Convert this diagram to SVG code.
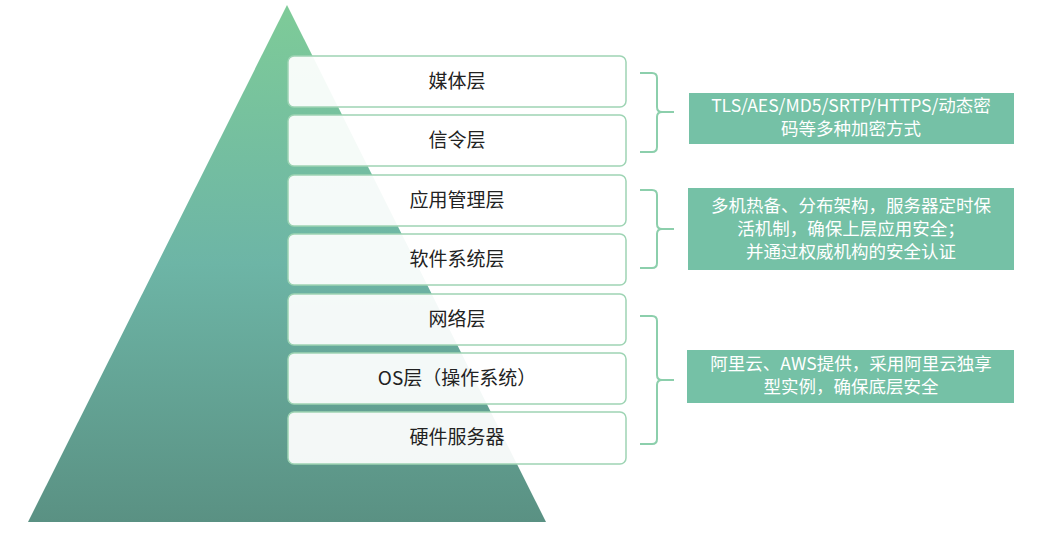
<svg xmlns="http://www.w3.org/2000/svg" width="1054" height="536" viewBox="0 0 1054 536">
<defs>
<linearGradient id="g" x1="0" y1="0" x2="0" y2="1">
<stop offset="0" stop-color="#7ecb98"/>
<stop offset="0.5" stop-color="#6db5a6"/>
<stop offset="1" stop-color="#5a9183"/>
</linearGradient>
</defs>
<style>
.layer{fill:#fff;fill-opacity:0.93;stroke:#9ed4b4;stroke-width:1.5}
.lt{font-family:"Noto Sans CJK SC","Liberation Sans",sans-serif;font-size:19px;fill:#222;text-anchor:middle}
.note{fill:#75c1a6}
.nt{font-family:"Noto Sans CJK SC","Liberation Sans",sans-serif;font-size:17.5px;fill:#fff;text-anchor:middle}
.br{fill:none;stroke:#8ccfac;stroke-width:2}
</style>
<rect width="1054" height="536" fill="#fff"/>
<polygon points="287,5 28,522 546,522" fill="url(#g)"/>
<g id="l1"><rect class="layer" x="288" y="56" width="338" height="51" rx="6"/><text class="lt" x="457" y="88">媒体层</text></g>
<g id="l2"><rect class="layer" x="288" y="115" width="338" height="51" rx="6"/><text class="lt" x="457" y="147">信令层</text></g>
<g id="l3"><rect class="layer" x="288" y="175" width="338" height="51" rx="6"/><text class="lt" x="457" y="207">应用管理层</text></g>
<g id="l4"><rect class="layer" x="288" y="234" width="338" height="51" rx="6"/><text class="lt" x="457" y="266">软件系统层</text></g>
<g id="l5"><rect class="layer" x="288" y="294" width="338" height="51" rx="6"/><text class="lt" x="457" y="326">网络层</text></g>
<g id="l6"><rect class="layer" x="288" y="353" width="338" height="51" rx="6"/><text class="lt" x="457" y="385">OS层（操作系统）</text></g>
<g id="l7"><rect class="layer" x="288" y="412" width="338" height="52" rx="6"/><text class="lt" x="457" y="444">硬件服务器</text></g>
<g id="connectors">
<path class="br" d="M640,73 H652 Q657,73 657,78 V107 Q657,112 662,112 H674 M662,112 Q657,112 657,117 V147 Q657,152 652,152 H640"/>
<path class="br" d="M640,190 H652 Q657,190 657,195 V224 Q657,229 662,229 H674 M662,229 Q657,229 657,234 V263 Q657,268 652,268 H640"/>
<path class="br" d="M640,316 H652 Q657,316 657,321 V375 Q657,380 662,380 H674 M662,380 Q657,380 657,385 V439 Q657,444 652,444 H640"/>
</g>
<g id="n1"><rect class="note" x="689" y="93" width="325" height="51"/><text class="nt" x="851" y="112">TLS/AES/MD5/SRTP/HTTPS/动态密</text><text class="nt" x="851" y="135">码等多种加密方式</text></g>
<g id="n2"><rect class="note" x="688" y="188" width="326" height="82"/><text class="nt" x="851" y="212">多机热备、分布架构，服务器定时保</text><text class="nt" x="851" y="235">活机制，确保上层应用安全；</text><text class="nt" x="851" y="258">并通过权威机构的安全认证</text></g>
<g id="n3"><rect class="note" x="687" y="350" width="327" height="53"/><text class="nt" x="851" y="370">阿里云、AWS提供，采用阿里云独享</text><text class="nt" x="851" y="393">型实例，确保底层安全</text></g>
</svg>
